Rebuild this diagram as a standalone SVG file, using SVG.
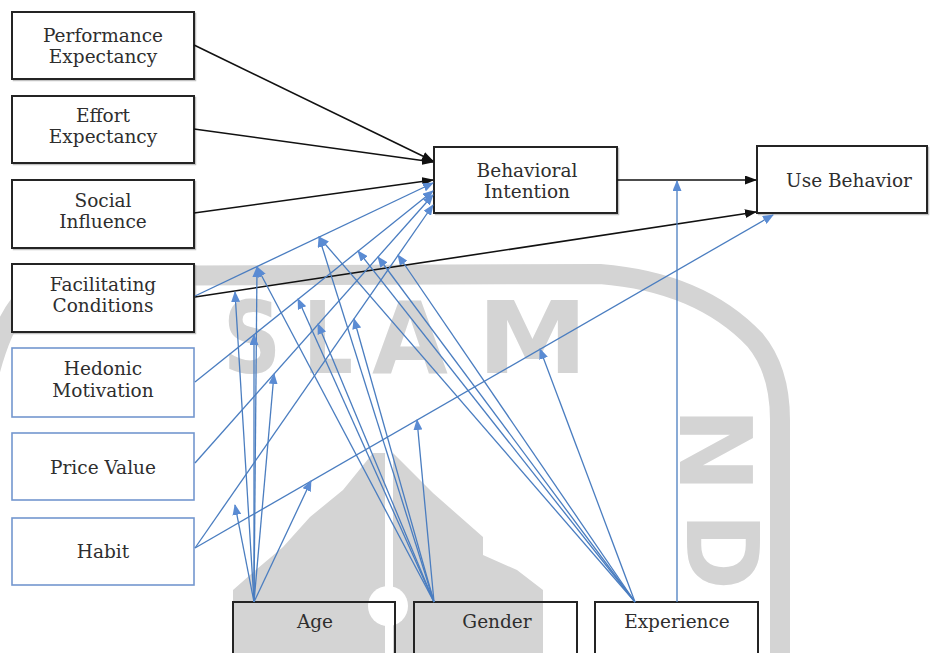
<svg xmlns="http://www.w3.org/2000/svg" width="930" height="653" viewBox="0 0 930 653">
  <defs>
    <style>
      .wm{fill:#d4d4d4}
      .wmr{fill:none;stroke:#d4d4d4;stroke-width:20}
      .wmt{font-family:"DejaVu Sans","Liberation Sans",sans-serif;font-weight:bold;font-size:100px;fill:#d4d4d4}
      .sh{fill:none;stroke:#9a9a9a;stroke-width:1.5;opacity:0.6}
      .box{fill:#fff;stroke:#242424;stroke-width:2}
      .boxo{fill:none;stroke:#242424;stroke-width:2}
      .bbox{fill:none;stroke:#7397cf;stroke-width:1.6}
      .lbl{font-family:"DejaVu Serif","Liberation Serif",serif;font-size:18.5px;fill:#2e2e2e;text-anchor:middle}
      .k{stroke:#111;stroke-width:1.6;fill:none;marker-end:url(#ak)}
      .b{stroke:#4a7dc0;stroke-width:1.3;fill:none;marker-end:url(#ab)}
    </style>
    <marker id="ak" viewBox="0 0 12 9" refX="11" refY="4.5" markerWidth="12" markerHeight="9" markerUnits="userSpaceOnUse" orient="auto">
      <path d="M0,0 L12,4.5 L0,9 z" fill="#111"/>
    </marker>
    <marker id="ab" viewBox="0 0 11 9" refX="10" refY="4.5" markerWidth="11" markerHeight="9" markerUnits="userSpaceOnUse" orient="auto">
      <path d="M0,0 L11,4.5 L0,9 z" fill="#5a8bd3"/>
    </marker>
  </defs>
  <rect width="930" height="653" fill="#fff"/>

  <!-- faint logo watermark in the background -->
  <g id="watermark">
    <path class="wmr" d="M-20,420 Q0,290 60,276 L600,274 Q700,282 755,340 Q780,370 780,420 L780,660"/>
    <path class="wm" d="M373,453 L385,453 L385,660 L233,660 L233,590 L250,575 L283,547 L310,517 L343,490 Z"/>
    <path class="wm" d="M393,453 L433,493 L483,537 L483,555 L517,570 L543,590 L543,660 L393,660 Z"/>
    <circle cx="388" cy="606" r="20" fill="#fff"/>
    <text class="wmt" x="223" y="373" textLength="58" lengthAdjust="spacingAndGlyphs">S</text>
    <text class="wmt" x="303" y="373" textLength="50" lengthAdjust="spacingAndGlyphs">L</text>
    <text class="wmt" x="372" y="373" textLength="76" lengthAdjust="spacingAndGlyphs">A</text>
    <text class="wmt" x="477" y="373" textLength="111" lengthAdjust="spacingAndGlyphs">M</text>
    <text class="wmt" transform="translate(680,407) rotate(90)" textLength="86" lengthAdjust="spacingAndGlyphs">N</text>
    <text class="wmt" transform="translate(687,513) rotate(90)" textLength="77" lengthAdjust="spacingAndGlyphs">D</text>
  </g>

  <!-- soft drop shadows of the outlined boxes -->
  <g id="shadows">
    <rect class="sh" x="13.5" y="13.5" width="182" height="67"/>
    <rect class="sh" x="13.5" y="97.5" width="182" height="67"/>
    <rect class="sh" x="13.5" y="181.5" width="182" height="68"/>
    <rect class="sh" x="13.5" y="265.5" width="182" height="68"/>
    <rect class="sh" x="435.5" y="148.5" width="183" height="66"/>
    <rect class="sh" x="758.5" y="147.5" width="170" height="67"/>
  </g>

  <!-- constructs -->
  <g id="performance-expectancy">
    <rect class="box" x="12" y="12" width="182" height="67"/>
    <text class="lbl" x="103" y="42">Performance</text>
    <text class="lbl" x="103" y="63">Expectancy</text>
  </g>
  <g id="effort-expectancy">
    <rect class="box" x="12" y="96" width="182" height="67"/>
    <text class="lbl" x="103" y="122">Effort</text>
    <text class="lbl" x="103" y="143">Expectancy</text>
  </g>
  <g id="social-influence">
    <rect class="box" x="12" y="180" width="182" height="68"/>
    <text class="lbl" x="103" y="207">Social</text>
    <text class="lbl" x="103" y="228">Influence</text>
  </g>
  <g id="facilitating-conditions">
    <rect class="box" x="12" y="264" width="182" height="68"/>
    <text class="lbl" x="103" y="291">Facilitating</text>
    <text class="lbl" x="103" y="312">Conditions</text>
  </g>
  <g id="hedonic-motivation">
    <rect class="bbox" x="12" y="348" width="182" height="69"/>
    <text class="lbl" x="103" y="375">Hedonic</text>
    <text class="lbl" x="103" y="397">Motivation</text>
  </g>
  <g id="price-value">
    <rect class="bbox" x="12" y="433" width="182" height="67"/>
    <text class="lbl" x="103" y="474">Price Value</text>
  </g>
  <g id="habit">
    <rect class="bbox" x="12" y="518" width="182" height="67"/>
    <text class="lbl" x="103" y="558">Habit</text>
  </g>
  <g id="behavioral-intention">
    <rect class="box" x="434" y="147" width="183" height="66"/>
    <text class="lbl" x="527" y="177">Behavioral</text>
    <text class="lbl" x="527" y="198">Intention</text>
  </g>
  <g id="use-behavior">
    <rect class="box" x="757" y="146" width="170" height="67"/>
    <text class="lbl" x="849" y="187">Use Behavior</text>
  </g>

  <!-- moderators -->
  <g id="age">
    <rect class="boxo" x="233" y="602" width="162" height="70"/>
    <text class="lbl" x="315" y="628">Age</text>
  </g>
  <g id="gender">
    <rect class="boxo" x="414" y="602" width="163" height="70"/>
    <text class="lbl" x="497" y="628">Gender</text>
  </g>
  <g id="experience">
    <rect class="boxo" x="595" y="602" width="163" height="70"/>
    <text class="lbl" x="677" y="628">Experience</text>
  </g>

  <g id="connectors">
    <!-- direct effects -->
    <path class="k" d="M194,45 L433,161"/>
    <path class="k" d="M194,129 L433,162"/>
    <path class="k" d="M194,213 L433,180"/>
    <path class="k" d="M195,297 L756,212"/>
    <path class="k" d="M617,180 L756,180"/>
    <path class="b" d="M195,296 L433,183"/>
    <path class="b" d="M195,382 L433,191"/>
    <path class="b" d="M195,463 L433,195"/>
    <path class="b" d="M195,548 L433,205"/>
    <path class="b" d="M195,548 L773,215"/>
    <!-- age -->
    <path class="b" d="M254,602 L235,292"/>
    <path class="b" d="M254,602 L257,267"/>
    <path class="b" d="M254,602 L254,335"/>
    <path class="b" d="M254,602 L274,374"/>
    <path class="b" d="M254,602 L235,505"/>
    <path class="b" d="M254,602 L311,481"/>
    <!-- gender -->
    <path class="b" d="M434,602 L257,267"/>
    <path class="b" d="M434,602 L298,299"/>
    <path class="b" d="M434,602 L318,324"/>
    <path class="b" d="M434,602 L319,237"/>
    <path class="b" d="M434,602 L354,319"/>
    <path class="b" d="M434,602 L417,420"/>
    <!-- experience -->
    <path class="b" d="M635,602 L319,237"/>
    <path class="b" d="M635,602 L358,251"/>
    <path class="b" d="M635,602 L378,257"/>
    <path class="b" d="M635,602 L398,255"/>
    <path class="b" d="M635,602 L540,349"/>
    <path class="b" d="M677,602 L677,181"/>
  </g>
</svg>
